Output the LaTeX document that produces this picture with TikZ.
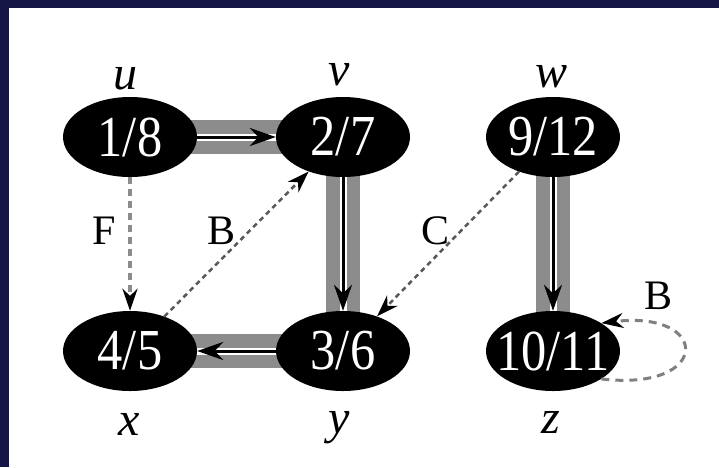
\documentclass[tikz,border=0pt]{standalone}
\usepackage{fontspec}
\setmainfont{Liberation Serif}
\usetikzlibrary{arrows.meta,shapes.geometric,backgrounds}
\definecolor{navy}{RGB}{21,21,70}
\newcommand{\vtxtext}[1]{\makebox[0pt]{\scalebox{0.87}[1]{#1}}}
\begin{document}
\begin{tikzpicture}[x=1pt,y=-1pt,
  vert/.style={ellipse,fill=black,minimum width=134pt,minimum height=80pt,inner sep=0pt,text=white,font=\fontsize{58}{58}\selectfont},
  vlab/.style={anchor=base,inner sep=0pt,font=\fontsize{48}{48}\selectfont\itshape},
  elab/.style={inner sep=0pt,font=\fontsize{42}{42}\selectfont},
  band/.style={line width=34pt,draw=black!45},
  bandgap/.style={line width=7pt,draw=white},
  treeedge/.style={line width=3pt,-{Stealth[length=26pt,width=18pt]}},
  nontree/.style={draw=black!65,line width=2.5pt,dash pattern=on 5pt off 4pt,-{Stealth[length=22pt,width=15pt,color=black]}},
  ]
\useasboundingbox (0,0) rectangle (719,467);
% vertices
\node[vert] (u) at (130,137) {\vtxtext{1/8}};
\node[vert] (v) at (343,137) {\vtxtext{2/7}};
\node[vert] (w) at (553,137) {\vtxtext{9/12}};
\node[vert] (x) at (130,351) {\vtxtext{4/5}};
\node[vert] (y) at (343,351) {\vtxtext{3/6}};
\node[vert] (z) at (553,351) {\vtxtext{10/11}};
% vertex labels
\node[vlab] (lu) at (125,89) {u};
\node[vlab] (lv) at (339,85) {v};
\node[vlab] (lw) at (551,87) {w};
\node[vlab] (lx) at (129,435) {x};
\node[vlab] (ly) at (339,433) {y};
\node[vlab] (lz) at (551,433) {z};
% background: frame and shaded tree edges
\begin{scope}[on background layer]
  \fill[navy] (0,0) rectangle (719,467);
  \fill[white] (9,8) rectangle (719,467);
  \foreach \a/\b in {u/v,v/y,w/z,y/x}{
    \draw[band] (\a.center) -- (\b.center);
    \draw[bandgap] (\a.center) -- (\b.center);
  }
\end{scope}
% tree edges
\draw[treeedge] (u) -- (v);
\draw[treeedge] (v) -- (y);
\draw[treeedge] (w) -- (z);
\draw[treeedge] (y) -- (x);
% non-tree edges
\draw[nontree,line width=4pt,draw=black!45,dash pattern=on 7pt off 5pt] (u) -- (x);
\draw[nontree] (x) -- (v);
\draw[nontree] (w) -- (y);
\draw[nontree,draw=black!50,line width=3pt,dash pattern=on 8pt off 6pt] (z.-30) .. controls +(110,13) and +(110,-13) .. (z.30);
% edge labels
\node[elab] (lF) at (104,231) {F};
\node[elab] (lB1) at (222,231) {B};
\node[elab] (lC) at (435,231) {C};
\node[elab] (lB2) at (658,296) {B};
\end{tikzpicture}
\end{document}
